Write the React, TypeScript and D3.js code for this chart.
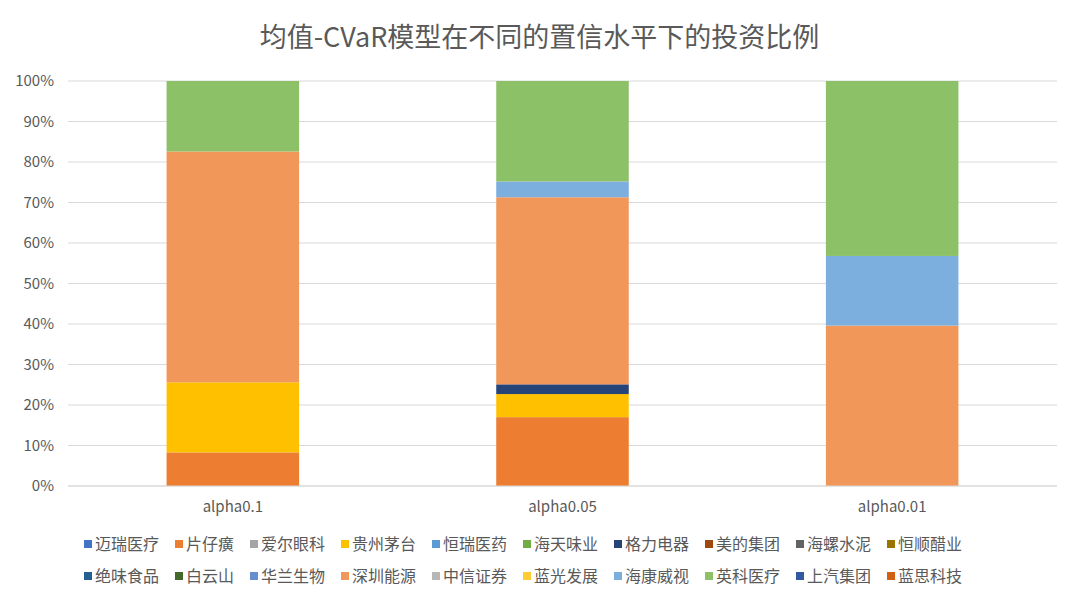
import React from "react";
import * as d3 from "d3";

const categories = ["alpha0.1", "alpha0.05", "alpha0.01"];
const stocks = ["迈瑞医疗","片仔癀","爱尔眼科","贵州茅台","恒瑞医药","海天味业","格力电器","美的集团","海螺水泥","恒顺醋业","绝味食品","白云山","华兰生物","深圳能源","中信证券","蓝光发展","海康威视","英科医疗","上汽集团","蓝思科技"];
const colors = ["#4472C4","#ED7D31","#A5A5A5","#FFC000","#5B9BD5","#70AD47","#264478","#9E480E","#636363","#997300","#255E91","#43682B","#698ED0","#F1975A","#B7B7B7","#FFCD33","#7CAFDD","#8CC168","#335AA1","#D26012"];
// weights per stock for each category (fractions)
const w01 = [0,0.083,0,0.173,0,0,0,0,0,0,0,0,0,0.570,0,0,0,0.174,0,0];
const w005 = [0,0.170,0,0.057,0,0,0.024,0,0,0,0,0,0,0.462,0,0,0.039,0.248,0,0];
const w001 = [0,0,0,0,0,0,0,0,0,0,0,0,0,0.396,0,0,0.172,0.432,0,0];
const weights = [w01, w005, w001];
const yTicks = [0,0.1,0.2,0.3,0.4,0.5,0.6,0.7,0.8,0.9,1.0];

export default function App() {
  const W = 1079, H = 602;
  const x = d3.scaleBand().domain(categories).range([68, 1057]).paddingInner(0.598).paddingOuter(0.299);
  const y = d3.scaleLinear().domain([0, 1]).range([486, 81]);
  const font = "'Microsoft YaHei','Noto Sans CJK SC',sans-serif";
  const legendRows = [stocks.slice(0, 10), stocks.slice(10)];
  return (
    <svg width={W} height={H} style={{ position: "absolute", left: 0, top: 0, background: "#fff" }} fontFamily={font}>
      <text x={W / 2} y={47} textAnchor="middle" fontSize={27} fill="#595959">均值-CVaR模型在不同的置信水平下的投资比例</text>
      {yTicks.map(t => (
        <g key={t}>
          <line x1={68} x2={1057} y1={y(t)} y2={y(t)} stroke="#D9D9D9" />
          <text x={54} y={y(t) + 5} textAnchor="end" fontSize={15} fill="#595959">{Math.round(t * 100)}%</text>
        </g>
      ))}
      {categories.map((c, ci) => {
        const stack = d3.cumsum(weights[ci]);
        return (
          <g key={c}>
            {weights[ci].map((v, si) => v > 0 ? (
              <rect key={si} x={x(c)} width={x.bandwidth()} y={y(stack[si])} height={y(stack[si] - v) - y(stack[si])} fill={colors[si]} />
            ) : null)}
            <text x={(x(c) || 0) + x.bandwidth() / 2} y={512} textAnchor="middle" fontSize={15} fill="#595959">{c}</text>
          </g>
        );
      })}
      <line x1={68} x2={1057} y1={486} y2={486} stroke="#D9D9D9" />
      {legendRows.map((row, ri) => {
        let cx = 84;
        return row.map((s) => {
          const si = stocks.indexOf(s);
          const xx = cx;
          cx += 8 + 4 + s.length * 16 + 15;
          const yy = 545 + ri * 32;
          return (
            <g key={s}>
              <rect x={xx} y={yy - 5} width={8} height={8} fill={colors[si]} />
              <text x={xx + 11} y={yy + 5} fontSize={16} fill="#595959">{s}</text>
            </g>
          );
        });
      })}
    </svg>
  );
}
